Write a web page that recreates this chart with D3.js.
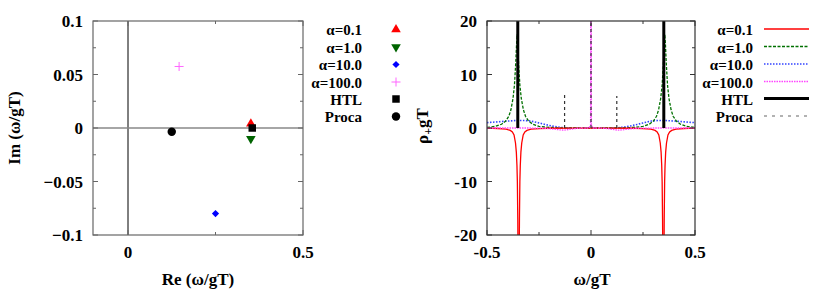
<!DOCTYPE html>
<html>
<head>
<meta charset="utf-8">
<script src="https://cdn.jsdelivr.net/npm/d3@7"></script>
<style>
  body { margin: 0; background: #fff; }
</style>
</head>
<body>
<script>
// ---- left panel: pole positions ----
const poleLabels = ["α=0.1", "α=1.0", "α=10.0", "α=100.0", "HTL", "Proca"];
const poleRe = [0.351, 0.351, 0.25, 0.146, 0.355, 0.125];
const poleIm = [0.004, -0.01, -0.080, 0.0575, 0, -0.0035];

const reTicks = [0, 0.5];
const reMinor = [0.25];
const imTicks = [-0.1, -0.05, 0, 0.05, 0.1];
const imMinor = [-0.075, -0.025, 0.025, 0.075];

// ---- right panel: spectral functions [omega, rho] ----
const rhoA01 = [
  [-0.5, -0.04], [-0.448, -0.09], [-0.408, -0.22], [-0.388, -0.45], [-0.378, -0.75],
  [-0.370, -1.3], [-0.363, -2.8], [-0.359, -4.5], [-0.356, -7], [-0.354, -10],
  [-0.352, -17], [-0.350, -30], [-0.348, -45], [-0.346, -30], [-0.344, -17],
  [-0.342, -10], [-0.340, -7], [-0.337, -4.5], [-0.333, -2.8], [-0.326, -1.3],
  [-0.318, -0.75], [-0.308, -0.45], [-0.288, -0.22], [-0.248, -0.1], [-0.198, -0.05],
  [-0.1, -0.02], [0, -0.01],
  [0.1, -0.02], [0.198, -0.05], [0.248, -0.1], [0.288, -0.22], [0.308, -0.45],
  [0.318, -0.75], [0.326, -1.3], [0.333, -2.8], [0.337, -4.5], [0.340, -7],
  [0.342, -10], [0.344, -17], [0.346, -30], [0.348, -45], [0.350, -30],
  [0.352, -17], [0.354, -10], [0.356, -7], [0.359, -4.5], [0.363, -2.8],
  [0.370, -1.3], [0.378, -0.75], [0.388, -0.45], [0.408, -0.22], [0.448, -0.09],
  [0.5, -0.04]
];
const rhoA1 = [
  [-0.5, 0.1], [-0.46, 0.3], [-0.43, 0.7], [-0.41, 1.3], [-0.395, 2.2], [-0.385, 3.4],
  [-0.375, 5.5], [-0.368, 8], [-0.362, 12], [-0.358, 15.5], [-0.355, 17.5],
  [-0.352, 15.5], [-0.348, 12], [-0.342, 8], [-0.335, 5.5], [-0.325, 3.4],
  [-0.315, 2.2], [-0.300, 1.3], [-0.28, 0.7], [-0.25, 0.3], [-0.2, 0.1],
  [-0.15, 0.03], [-0.1, 0], [0, 0],
  [0.1, 0], [0.15, 0.03], [0.2, 0.1], [0.25, 0.3], [0.28, 0.7], [0.300, 1.3],
  [0.315, 2.2], [0.325, 3.4], [0.335, 5.5], [0.342, 8], [0.348, 12], [0.352, 15.5],
  [0.355, 17.5], [0.358, 15.5], [0.362, 12], [0.368, 8], [0.375, 5.5], [0.385, 3.4],
  [0.395, 2.2], [0.41, 1.3], [0.43, 0.7], [0.46, 0.3], [0.5, 0.1]
];
const rhoA10 = [
  [-0.5, 1.0], [-0.45, 1.15], [-0.4, 1.3], [-0.36, 1.4], [-0.32, 1.4], [-0.29, 1.3],
  [-0.25, 0.95], [-0.22, 0.65], [-0.19, 0.38], [-0.16, 0.18], [-0.13, 0.05],
  [-0.1, 0], [0, 0],
  [0.1, 0], [0.13, 0.05], [0.16, 0.18], [0.19, 0.38], [0.22, 0.65], [0.25, 0.95],
  [0.29, 1.3], [0.32, 1.4], [0.36, 1.4], [0.4, 1.3], [0.45, 1.15], [0.5, 1.0]
];
const rhoA100 = [
  [-0.5, 0], [-0.3, 0], [-0.22, -0.05], [-0.18, -0.2], [-0.15, -0.35], [-0.13, -0.4],
  [-0.11, -0.3], [-0.08, -0.12], [-0.05, -0.03], [-0.01, 0], [-0.002, 0.5],
  [0, 60],
  [0.002, 0.5], [0.01, 0], [0.05, -0.03], [0.08, -0.12], [0.11, -0.3], [0.13, -0.4],
  [0.15, -0.35], [0.18, -0.2], [0.22, -0.05], [0.3, 0], [0.5, 0]
];
// delta-like poles drawn as vertical impulses
const htlPoles = [-0.352, 0.35];
const htlHeights = [60, 60];
const procaPoles = [-0.127, 0, 0.124];
const procaHeights = [6.2, 60, 6.0];

const omegaTicks = [-0.5, 0, 0.5];
const omegaMinor = [-0.25, 0.25];
const rhoTicks = [-20, -10, 0, 10, 20];
const rhoMinor = [-15, -5, 5, 15];

const w = 830, h = 291;
const svg = d3.select("body").append("svg").attr("width", w).attr("height", h)
  .attr("font-family", "'Liberation Serif', 'DejaVu Serif', 'Times New Roman', serif")
  .attr("font-weight", "bold");

// helper for the mirrored inward ticks of a framed box
function frame(g, x, y, xt, xm, yt, ym, col) {
  const [x0, x1] = x.range(), [y0, y1] = y.range();
  g.append("rect").attr("x", x0).attr("y", y1).attr("width", x1 - x0).attr("height", y0 - y1)
    .attr("fill", "none").attr("stroke", col).attr("stroke-width", 1.2);
  const tk = (vals, len, isX) => vals.forEach(v => {
    if (isX) {
      const p = x(v);
      g.append("line").attr("x1", p).attr("x2", p).attr("y1", y0).attr("y2", y0 - len).attr("stroke", col);
      g.append("line").attr("x1", p).attr("x2", p).attr("y1", y1).attr("y2", y1 + len).attr("stroke", col);
    } else {
      const p = y(v);
      g.append("line").attr("y1", p).attr("y2", p).attr("x1", x0).attr("x2", x0 + len).attr("stroke", col);
      g.append("line").attr("y1", p).attr("y2", p).attr("x1", x1).attr("x2", x1 - len).attr("stroke", col);
    }
  });
  tk(xt, 5, true); tk(xm, 3, true); tk(yt, 5, false); tk(ym, 3, false);
}

// ================= left panel =================
const xL = d3.scaleLinear().domain([-0.1, 0.5]).range([93, 303]);
const yL = d3.scaleLinear().domain([-0.1, 0.1]).range([235, 21]);
const gL = svg.append("g");

gL.append("line").attr("x1", xL(0)).attr("x2", xL(0)).attr("y1", yL(-0.1)).attr("y2", yL(0.1))
  .attr("stroke", "#000").attr("stroke-width", 1);
gL.append("line").attr("x1", xL(-0.1)).attr("x2", xL(0.5)).attr("y1", yL(0)).attr("y2", yL(0))
  .attr("stroke", "#888").attr("stroke-width", 1.5);
frame(gL, xL, yL, reTicks, reMinor, imTicks, imMinor, "#666");

gL.selectAll(".ytl").data(imTicks).enter().append("text")
  .attr("x", xL.range()[0] - 10).attr("y", d => yL(d) + 6)
  .attr("text-anchor", "end").attr("font-size", 17)
  .text(d => d === 0 ? "0" : d3.format("")(d));
gL.selectAll(".xtl").data(reTicks).enter().append("text")
  .attr("x", d => xL(d)).attr("y", 258)
  .attr("text-anchor", "middle").attr("font-size", 17)
  .text(d => d);
gL.append("text").attr("x", 198).attr("y", 285).attr("text-anchor", "middle")
  .attr("font-size", 17).text("Re (ω/gT)");
gL.append("text").attr("transform", "translate(20,128) rotate(-90)").attr("text-anchor", "middle")
  .attr("font-size", 17).text("Im (ω/gT)");

const markColors = ["#ff0000", "#006400", "#0000ff", "#ff66ff", "#000000", "#000000"];
function marker(g, i, cx, cy) {
  const c = markColors[i];
  if (i === 0) g.append("path").attr("d", d3.symbol(d3.symbolTriangle, 40)()).attr("transform", `translate(${cx},${cy})`).attr("fill", c);
  if (i === 1) g.append("path").attr("d", d3.symbol(d3.symbolTriangle, 40)()).attr("transform", `translate(${cx},${cy}) rotate(180)`).attr("fill", c);
  if (i === 2) g.append("path").attr("d", d3.symbol(d3.symbolSquare, 26)()).attr("transform", `translate(${cx},${cy}) rotate(45)`).attr("fill", c);
  if (i === 3) g.append("path").attr("d", `M${cx - 4.5},${cy}H${cx + 4.5}M${cx},${cy - 4.5}V${cy + 4.5}`).attr("stroke", c).attr("stroke-width", 1);
  if (i === 4) g.append("path").attr("d", d3.symbol(d3.symbolSquare, 56)()).attr("transform", `translate(${cx},${cy})`).attr("fill", c);
  if (i === 5) g.append("path").attr("d", d3.symbol(d3.symbolCircle, 56)()).attr("transform", `translate(${cx},${cy})`).attr("fill", c);
}
poleRe.forEach((re, i) => marker(gL, i, xL(re), yL(poleIm[i])));

const legY = [30, 47.5, 65, 82.5, 99.5, 117];
poleLabels.forEach((lab, i) => {
  gL.append("text").attr("x", 362).attr("y", legY[i] + 5).attr("text-anchor", "end")
    .attr("font-size", 15).text(lab);
  marker(gL, i, 396, legY[i] - 0.5);
});

// ================= right panel =================
const xR = d3.scaleLinear().domain([-0.5, 0.5]).range([487, 695]);
const yR = d3.scaleLinear().domain([-20, 20]).range([235, 21]);
const gR = svg.append("g");

svg.append("defs").append("clipPath").attr("id", "clipR").append("rect")
  .attr("x", 487).attr("y", 21).attr("width", 208).attr("height", 214);

const line = d3.line().x(d => xR(d[0])).y(d => yR(d[1]));
const plot = gR.append("g").attr("clip-path", "url(#clipR)");

const series = [
  { data: rhoA01, color: "#ff0000", dash: null, width: 1.3 },
  { data: rhoA1, color: "#007000", dash: "3,1.5", width: 1.3 },
  { data: rhoA10, color: "#3344ff", dash: "1.5,1.5", width: 1.6 },
  { data: rhoA100, color: "#ff44ff", dash: "1.5,1", width: 1.3 }
];
const seriesOrder = [2, 1, 0, 3];
seriesOrder.forEach(k => {
  const s = series[k];
  plot.append("path").datum(s.data).attr("d", line).attr("fill", "none")
    .attr("stroke", s.color).attr("stroke-width", s.width)
    .attr("stroke-dasharray", s.dash);
});
htlPoles.forEach((p, i) => {
  plot.append("line").attr("x1", xR(p)).attr("x2", xR(p)).attr("y1", yR(0)).attr("y2", yR(htlHeights[i]))
    .attr("stroke", "#000").attr("stroke-width", 3);
});
procaPoles.forEach((p, i) => {
  plot.append("line").attr("x1", xR(p)).attr("x2", xR(p)).attr("y1", yR(0)).attr("y2", yR(procaHeights[i]))
    .attr("stroke", "#333").attr("stroke-width", 1.2).attr("stroke-dasharray", "3,3");
});

frame(gR, xR, yR, omegaTicks, omegaMinor, rhoTicks, rhoMinor, "#333");

gR.selectAll(".ytl").data(rhoTicks).enter().append("text")
  .attr("x", xR.range()[0] - 10).attr("y", d => yR(d) + 6)
  .attr("text-anchor", "end").attr("font-size", 17)
  .text(d => d);
gR.selectAll(".xtl").data(omegaTicks).enter().append("text")
  .attr("x", d => xR(d)).attr("y", 258)
  .attr("text-anchor", "middle").attr("font-size", 17)
  .text(d => d);
gR.append("text").attr("x", 592).attr("y", 285).attr("text-anchor", "middle")
  .attr("font-size", 17).text("ω/gT");
const yl = gR.append("text").attr("transform", "translate(428,126) rotate(-90)")
  .attr("text-anchor", "middle").attr("font-size", 17);
yl.append("tspan").text("ρ");
yl.append("tspan").attr("font-size", 12).attr("dy", 4).text("+");
yl.append("tspan").attr("dy", -4).text("gT");

const legStyles = [
  { color: "#ff0000", dash: null, width: 1.3 },
  { color: "#007000", dash: "3,1.5", width: 1.3 },
  { color: "#3344ff", dash: "1.5,1.5", width: 1.6 },
  { color: "#ff44ff", dash: "1.5,1", width: 1.3 },
  { color: "#000000", dash: null, width: 3 },
  { color: "#999999", dash: "3,5", width: 1.3 }
];
poleLabels.forEach((lab, i) => {
  gR.append("text").attr("x", 753).attr("y", legY[i] + 5).attr("text-anchor", "end")
    .attr("font-size", 15).text(lab);
  gR.append("line").attr("x1", 764).attr("x2", 809).attr("y1", legY[i] - 1).attr("y2", legY[i] - 1)
    .attr("stroke", legStyles[i].color).attr("stroke-width", legStyles[i].width)
    .attr("stroke-dasharray", legStyles[i].dash);
});
</script>
</body>
</html>
